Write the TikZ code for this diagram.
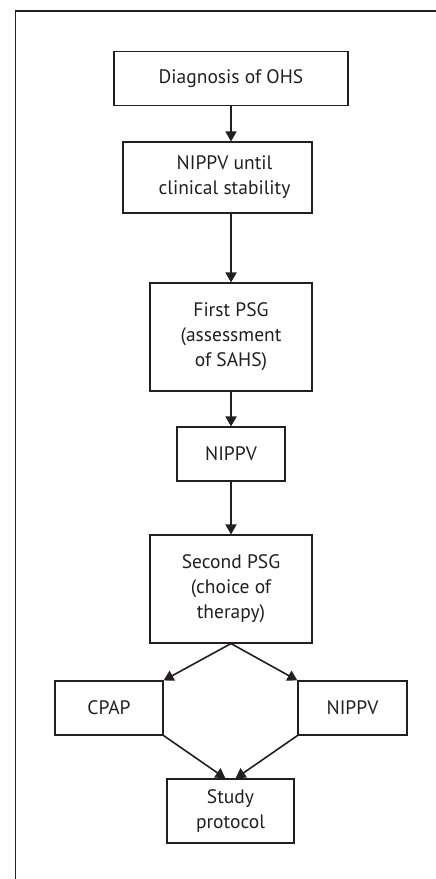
\documentclass[tikz,border=0pt]{standalone}
\usepackage{fontspec}
\setmainfont{PT Sans}
\usetikzlibrary{arrows.meta}
\definecolor{ink}{HTML}{231F20}
\begin{document}
\begin{tikzpicture}[x=1pt,y=-1pt,
  box/.style={draw=ink, line width=1.1pt, text=ink, align=center, inner sep=0pt,
    font=\fontsize{19.5}{25}\selectfont},
  arr/.style={draw=ink, line width=1.6pt, -{Triangle[length=10pt,width=11pt]}}]
\useasboundingbox (0,0) rectangle (436,879);
\draw[ink, line width=1.3pt] (15.5,879) coordinate (fa) -- (15.5,11) coordinate (fb) -- (436,11) coordinate (fc);
\node[box, minimum width=234pt, minimum height=54pt] (b1) at (231,78.5) {Diagnosis of OHS};
\node[box, minimum width=189pt, minimum height=71pt] (b2) at (217.5,177.5) {\hspace*{14pt}NIPPV until\\\hspace*{14pt}clinical stability};
\node[box, minimum width=162pt, minimum height=108pt] (b3) at (231,337) {First PSG\\(assessment\\of SAHS)};
\node[box, minimum width=108pt, minimum height=54pt] (b4) at (231,454) {NIPPV};
\node[box, minimum width=162pt, minimum height=108pt] (b5) at (231,589) {Second PSG\\(choice of\\therapy)};
\node[box, minimum width=108pt, minimum height=54pt] (cp) at (109,708) {CPAP};
\node[box, minimum width=109pt, minimum height=54pt] (nv) at (352.5,708) {NIPPV};
\node[box, minimum width=127pt, minimum height=64pt] (st) at (230.5,811) {Study\\protocol};
\draw[arr] (b1.south) -- (b1.south |- b2.north);
\draw[arr] (b1.south |- b2.south) -- (b3.north);
\draw[arr] (b3.south) -- (b4.north);
\draw[arr] (b4.south) -- (b5.north);
\draw[arr] (b5.south) -- (cp.north east);
\draw[arr] (b5.south) -- (nv.north west);
\draw[arr] (cp.south east) -- ([xshift=-5pt]st.north);
\draw[arr] (nv.south west) -- ([xshift=5pt]st.north);
\end{tikzpicture}
\end{document}
